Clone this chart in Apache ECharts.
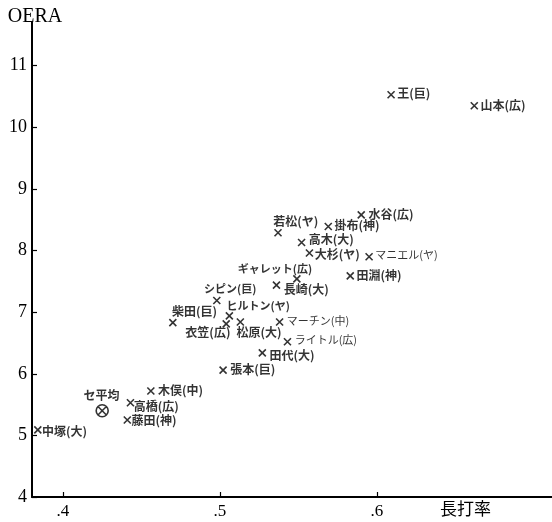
<!DOCTYPE html>
<html><head><meta charset="utf-8">
<script src="https://cdn.jsdelivr.net/npm/echarts@6/dist/echarts.min.js"></script>
<style>html,body{margin:0;padding:0;background:#fff}#c{width:552px;height:522px}</style>
</head><body><div id="c"></div>
<script>
// Data
const names = ['王(巨)','山本(広)','水谷(広)','若松(ヤ)','掛布(神)','高木(大)','大杉(ヤ)','マニエル(ヤ)','田淵(神)','ギャレット(広)','長崎(大)','シピン(巨)','ヒルトン(ヤ)','衣笠(広)','松原(大)','柴田(巨)','マーチン(中)','ライトル(広)','田代(大)','張本(巨)','木俣(中)','高橋(広)','藤田(神)','中塚(大)'];
const slugging = [0.609,0.662,0.590,0.537,0.569,0.552,0.557,0.595,0.583,0.549,0.536,0.498,0.506,0.504,0.513,0.470,0.538,0.543,0.527,0.502,0.456,0.443,0.441,0.384];
const oera = [10.53,10.35,8.58,8.29,8.39,8.13,7.96,7.90,7.59,7.54,7.44,7.19,6.94,6.81,6.84,6.83,6.84,6.52,6.34,6.06,5.72,5.53,5.25,5.09];
const avgName = ['セ平均'];
const avgSlugging = [0.425];
const avgOera = [5.40];
const yTicks = [4,5,6,7,8,9,10,11];
const xTicks = [0.4,0.5,0.6];

// label placement (offset from marker centre, alignment)
const place = {
 '王(巨)':[7,0,'left'],'山本(広)':[7,0,'left'],'水谷(広)':[8,0,'left'],'若松(ヤ)':[-4,-10,'left'],
 '掛布(神)':[7,0,'left'],'高木(大)':[8,-2,'left'],'大杉(ヤ)':[6,2,'left'],'マニエル(ヤ)':[7,-1,'left'],
 '田淵(神)':[7,0,'left'],'ギャレット(広)':[16,-9,'right'],'長崎(大)':[8,5,'left'],'シピン(巨)':[-12,-11,'left'],
 'ヒルトン(ヤ)':[-2,-9,'left'],'衣笠(広)':[5,9,'right'],'松原(大)':[-3,11,'left'],'柴田(巨)':[0,-10,'left'],
 'マーチン(中)':[8,0,'left'],'ライトル(広)':[8,-1,'left'],'田代(大)':[8,3,'left'],'張本(巨)':[8,0,'left'],
 '木俣(中)':[8,0,'left'],'高橋(広)':[4,4,'left'],'藤田(神)':[5,1,'left'],'中塚(大)':[5,2,'left'],
 'セ平均':[0,-15,'center']
};
const kana = /[ァ-ヶー]{2,}/;
const lightKana = ['マニエル(ヤ)','マーチン(中)','ライトル(広)'];
function mkLabel(n, size){
  const p = place[n]; const h = size/2;
  const isKana = kana.test(n);
  return {show:true, formatter:n, position:[h+p[0], h+p[1]], align:p[2], verticalAlign:'middle',
    fontFamily:'"Noto Sans CJK JP"', fontSize: isKana?11:12,
    fontWeight: lightKana.indexOf(n)>=0?'normal':'bold', color:'#000'};
}
const mSize = 7, aSize = 12;
const pts = names.map((n,i)=>({name:n, value:[slugging[i], oera[i]], label:mkLabel(n,mSize)}));
const avg = avgName.map((n,i)=>({name:n, value:[avgSlugging[i], avgOera[i]], label:mkLabel(n,aSize)}));

const serif = '"Liberation Serif", "DejaVu Serif", serif';
const chart = echarts.init(document.getElementById('c'), null, {renderer:'canvas'});
chart.setOption({
  animation:false,
  backgroundColor:'#fff',
  grid:{left:32, right:0, top:22, bottom:25},
  xAxis:{type:'value', min:0.3803, max:0.7115,
    axisLine:{lineStyle:{color:'#000', width:2}},
    axisTick:{inside:true, length:5, lineStyle:{color:'#000', width:1.2}, customValues:xTicks},
    axisLabel:{customValues:xTicks, formatter:v=>'.'+Math.round(v*10), fontFamily:serif, fontSize:17, color:'#000', margin:6},
    splitLine:{show:false}},
  yAxis:{type:'value', min:4, max:11.71,
    name:'OERA', nameLocation:'end', nameGap:-5,
    nameTextStyle:{fontFamily:serif, fontSize:20, color:'#000', padding:[0,0,0,6]},
    axisLine:{lineStyle:{color:'#000', width:2}},
    axisTick:{inside:true, length:5, lineStyle:{color:'#000', width:1.2}, customValues:yTicks},
    axisLabel:{customValues:yTicks, fontFamily:serif, fontSize:18, color:'#000', margin:5},
    splitLine:{show:false}},
  graphic:[{type:'text', left:440, top:500, style:{text:'長打率', font:'17px "Noto Sans CJK JP"', fill:'#000'}}],
  series:[
    {type:'scatter', data:pts, symbol:'path://M0,0L10,10M10,0L0,10', symbolSize:mSize,
     itemStyle:{color:'rgba(0,0,0,0)', borderColor:'#000', borderWidth:1.6}},
    {type:'scatter', data:avg, symbol:'path://M0,10A10,10,0,1,1,20,10A10,10,0,1,1,0,10ZM3,3L17,17M17,3L3,17', symbolSize:aSize,
     itemStyle:{color:'rgba(0,0,0,0)', borderColor:'#000', borderWidth:1.6}}
  ]
});
</script></body></html>
